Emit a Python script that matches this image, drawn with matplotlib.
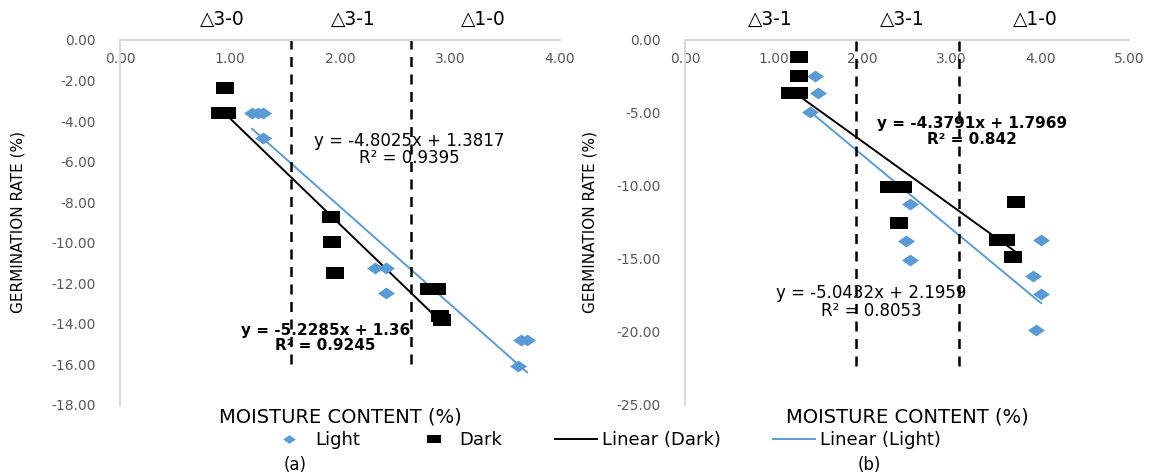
"""
Germination rate vs moisture content, light/dark seeds, two panels
"""
import matplotlib
matplotlib.use('Agg')
import matplotlib.pyplot as plt
from matplotlib.lines import Line2D
from matplotlib.transforms import blended_transform_factory
import numpy as np

plt.rcParams['font.family'] = ['DejaVu Sans']

# panel (a)
a_light_x = [1.20, 1.25, 1.30, 1.30, 2.32, 2.42, 2.42, 3.65, 3.70, 3.62]
a_light_y = [-3.61, -3.61, -3.61, -4.84, -11.25, -11.25, -12.48, -14.78, -14.78, -16.06]
a_dark_x = [0.95, 0.91, 0.97, 1.92, 1.93, 1.95, 2.81, 2.88, 2.91, 2.93]
a_dark_y = [-2.38, -3.61, -3.61, -8.72, -9.97, -11.49, -12.30, -12.30, -13.60, -13.80]
a_fit_light = (-4.8025, 1.3817, 0.9395)
a_fit_dark = (-5.2285, 1.36, 0.9245)
a_bounds = [1.555, 2.645]
a_zones = ['△3-0', '△3-1', '△1-0']
a_zone_x = [0.93, 2.12, 3.30]

# panel (b)
b_light_x = [1.46, 1.50, 1.41, 2.53, 2.49, 2.53, 4.01, 3.92, 4.01, 3.95]
b_light_y = [-2.44, -3.65, -4.90, -11.23, -13.77, -15.07, -13.70, -16.14, -17.40, -19.86]
b_dark_x = [1.28, 1.28, 1.18, 1.28, 2.30, 2.45, 2.41, 3.73, 3.52, 3.62, 3.69]
b_dark_y = [-1.14, -2.44, -3.65, -3.65, -10.05, -10.05, -12.55, -11.10, -13.70, -13.70, -14.85]
b_fit_light = (-5.0432, 2.1959, 0.8053)
b_fit_dark = (-4.3791, 1.7969, 0.842)
b_bounds = [1.93, 3.09]
b_zones = ['△3-1', '△3-1', '△1-0']
b_zone_x = [0.96, 2.45, 3.95]

BLUE = '#5B9BD5'
GRAY = '#595959'

# slightly wide markers, like the stretched excel export
RECT = [(-1, -0.62), (1, -0.62), (1, 0.62), (-1, 0.62), (-1, -0.62)]
DIAM = [(-1, 0), (0, 0.7), (1, 0), (0, -0.7), (-1, 0)]


def eq_text(fit, r_digits):
    m, c, r2 = fit
    return f'y = {m:.4f}x + {c:g}\nR² = {r2:.{r_digits}f}'


def draw_panel(ax, lx, ly, dx, dy, fit_l, fit_d, bounds, zones, zone_x,
               xmax, ymin, ystep, vline_bottom, pos_l, pos_d, r_digits):
    ax.scatter(lx, ly, marker=DIAM, s=150, color=BLUE, linewidths=0, zorder=3)
    ax.scatter(dx, dy, marker=RECT, s=165, color='black', linewidths=0, zorder=3)

    # trendlines
    xd = np.array([min(dx), max(dx)])
    ax.plot(xd, fit_d[0] * xd + fit_d[1], color='black', lw=1.4, zorder=2)
    xl = np.array([min(lx), max(lx)])
    ax.plot(xl, fit_l[0] * xl + fit_l[1], color=BLUE, lw=1.4, zorder=2)

    ax.vlines(bounds, vline_bottom, 0, colors='black', linestyles=(0, (4, 3)), lw=1.8)

    trans = blended_transform_factory(ax.transData, ax.transAxes)
    for zx, z in zip(zone_x, zones):
        ax.text(zx, 1.055, z, transform=trans, ha='center', va='center', fontsize=13.5)

    ax.text(pos_l[0], pos_l[1], eq_text(fit_l, r_digits[0]), ha='center', va='center',
            fontsize=12, multialignment='center', linespacing=0.95)
    ax.text(pos_d[0], pos_d[1], eq_text(fit_d, r_digits[1]), ha='center', va='center',
            fontsize=11, fontweight='bold', multialignment='center', linespacing=1.05)

    ax.set_xlim(0, xmax)
    ax.set_ylim(ymin, 0)
    ax.set_xticks(np.arange(0, xmax + 0.1, 1))
    ax.set_yticks(np.arange(ymin, 0.1, ystep))
    ax.xaxis.set_major_formatter(lambda v, p: f'{v:.2f}')
    ax.yaxis.set_major_formatter(lambda v, p: f'{v:.2f}')

    ax.xaxis.tick_top()
    ax.xaxis.set_label_position('bottom')
    ax.tick_params(axis='x', top=False, labeltop=True, pad=-22, labelsize=10, labelcolor=GRAY)
    ax.tick_params(axis='y', left=False, pad=14, labelsize=10, labelcolor=GRAY)

    for s in ['right', 'bottom']:
        ax.spines[s].set_visible(False)
    for s in ['left', 'top']:
        ax.spines[s].set_color('#d9d9d9')
        ax.spines[s].set_linewidth(1.5)

    ax.set_xlabel('MOISTURE CONTENT (%)', fontsize=14, labelpad=2)
    ax.set_ylabel('GERMINATION RATE (%)', fontsize=11)


fig = plt.figure(figsize=(11.52, 4.75), dpi=100)
ax1 = fig.add_axes([0.1042, 0.1474, 0.3819, 0.7684])
ax2 = fig.add_axes([0.5946, 0.1474, 0.3854, 0.7684])

draw_panel(ax1, a_light_x, a_light_y, a_dark_x, a_dark_y, a_fit_light, a_fit_dark,
           a_bounds, a_zones, a_zone_x, 4, -18, 2, -16.0, (2.63, -5.4), (1.87, -14.7), (4, 4))
draw_panel(ax2, b_light_x, b_light_y, b_dark_x, b_dark_y, b_fit_light, b_fit_dark,
           b_bounds, b_zones, b_zone_x, 5, -25, 5, -22.3, (2.1, -17.95), (3.23, -6.28), (4, 3))

ax1.yaxis.set_label_coords(-0.214, 0.5)
ax2.yaxis.set_label_coords(-0.196, 0.5)

handles = [
    Line2D([], [], marker=DIAM, color=BLUE, ls='none', markersize=9, markeredgewidth=0),
    Line2D([], [], marker=RECT, color='black', ls='none', markersize=10, markeredgewidth=0),
    Line2D([], [], color='black', lw=1.4),
    Line2D([], [], color=BLUE, lw=1.4),
]
fig.legend(handles, ['Light', 'Dark', 'Linear (Dark)', 'Linear (Light)'],
           loc='center', bbox_to_anchor=(0.525, 0.074), ncol=4, frameon=False,
           fontsize=13, handlelength=2.3, handletextpad=0.3, columnspacing=2.9)

fig.text(0.256, 0.021, '(a)', ha='center', va='center', fontsize=12)
fig.text(0.755, 0.021, '(b)', ha='center', va='center', fontsize=12)

plt.savefig('out.png', dpi=100)
